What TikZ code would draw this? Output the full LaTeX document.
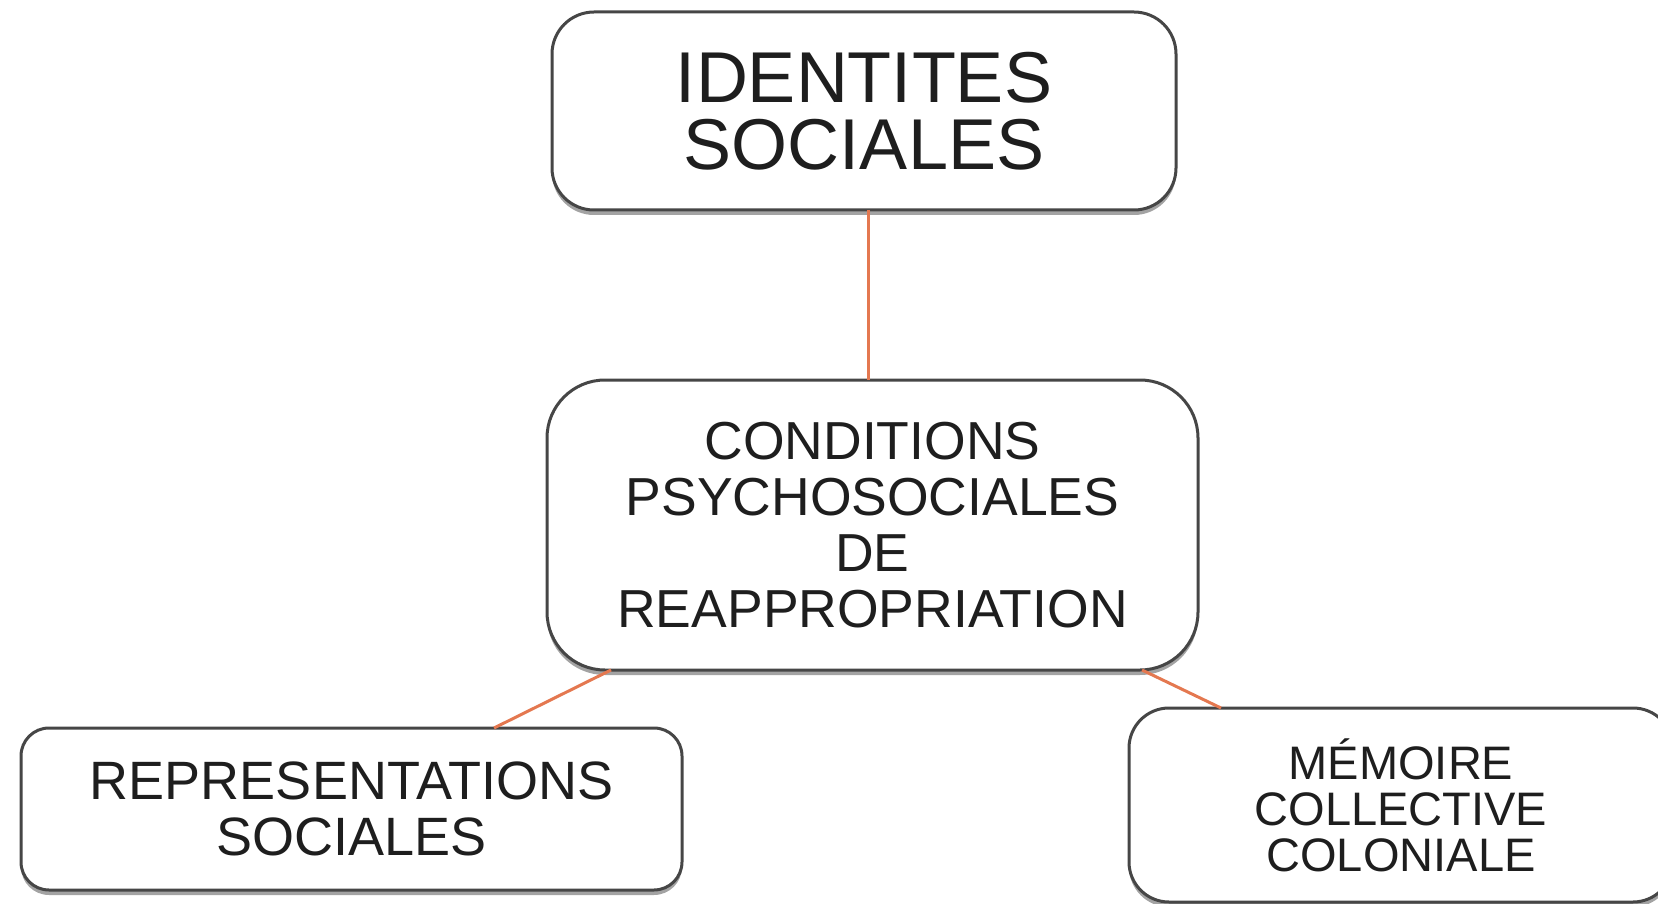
\documentclass[tikz,border=0pt]{standalone}
\usepackage{fontspec}
\setmainfont{Liberation Sans}
\usetikzlibrary{shadows}
\definecolor{boxline}{RGB}{70,70,70}
\definecolor{linkc}{RGB}{228,120,80}
\definecolor{txt}{RGB}{30,30,30}
\tikzset{
  box/.style={draw=boxline, line width=3pt, fill=white, align=center, inner sep=0pt, outer sep=0pt,
    text=txt, drop shadow={shadow xshift=0pt, shadow yshift=-5pt, fill=black!45, opacity=0.8}},
  link/.style={draw=linkc, line width=3pt}
}
\begin{document}
\begin{tikzpicture}[x=1pt,y=-1pt]
\useasboundingbox (0,0) rectangle (1658,904);
\node[box, rounded corners=42pt, minimum width=624pt, minimum height=198pt,
  font=\fontsize{72}{67}\selectfont] (top) at (864,111) {IDENTITES\\SOCIALES};
\node[box, rounded corners=58pt, minimum width=651pt, minimum height=290pt,
  font=\fontsize{53.5}{56}\selectfont] (mid) at (872.5,525) {CONDITIONS\\PSYCHOSOCIALES\\DE\\REAPPROPRIATION};
\node[box, rounded corners=28pt, minimum width=661pt, minimum height=162pt,
  font=\fontsize{54}{56}\selectfont] (left) at (351.5,809) {REPRESENTATIONS\\SOCIALES};
\node[box, rounded corners=40pt, minimum width=544pt, minimum height=194pt,
  font=\fontsize{47}{46}\selectfont] (right) at (1401,805) {MÉMOIRE\\COLLECTIVE\\COLONIALE};
\draw[link] ([xshift=4pt]top.south) -- ([xshift=4pt]top.south |- mid.north);
\draw[link] ([xshift=64pt]mid.south west) -- ([xshift=473pt]left.north west);
\draw[link] ([xshift=-56pt]mid.south east) -- ([xshift=92pt]right.north west);
\end{tikzpicture}
\end{document}
